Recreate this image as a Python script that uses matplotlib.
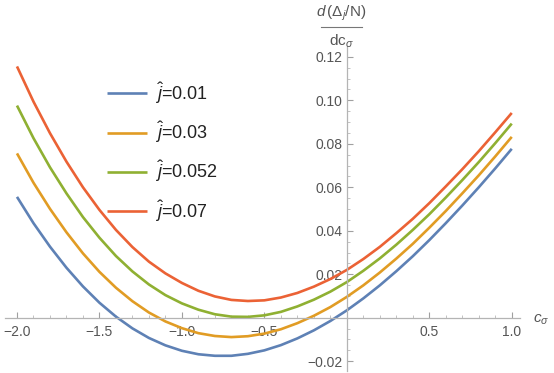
import matplotlib
matplotlib.use("Agg")
import matplotlib.pyplot as plt
from matplotlib.ticker import MultipleLocator, FixedLocator

plt.rcParams['font.family'] = ['Liberation Sans', 'DejaVu Sans']
plt.rcParams['mathtext.fontset'] = 'custom'
plt.rcParams['mathtext.rm'] = 'Liberation Sans'
plt.rcParams['mathtext.it'] = 'Liberation Sans:italic'
plt.rcParams['mathtext.bf'] = 'Liberation Sans:bold'

# ---- data ----
c_sigma = [-2.0, -1.9, -1.8, -1.7, -1.6, -1.5, -1.4, -1.3, -1.2, -1.1,
           -1.0, -0.9, -0.8, -0.7, -0.6, -0.5, -0.4, -0.3, -0.2, -0.1,
           0.0, 0.1, 0.2, 0.3, 0.4, 0.5, 0.6, 0.7, 0.8, 0.9, 1.0]
j_001 = [0.0556, 0.0435, 0.0327, 0.0230, 0.0144, 0.0069, 0.0005, -0.0049,
         -0.0093, -0.0127, -0.0152, -0.0168, -0.0175, -0.0175, -0.0166,
         -0.0150, -0.0126, -0.0095, -0.0058, -0.0015, 0.0034, 0.0089, 0.0149,
         0.0214, 0.0283, 0.0357, 0.0435, 0.0516, 0.0600, 0.0687, 0.0777]
j_003 = [0.0756, 0.0621, 0.0501, 0.0393, 0.0296, 0.0211, 0.0138, 0.0076,
         0.0024, -0.0017, -0.0048, -0.0071, -0.0084, -0.0089, -0.0085,
         -0.0073, -0.0053, -0.0025, 0.0009, 0.0049, 0.0096, 0.0149, 0.0208,
         0.0272, 0.0340, 0.0414, 0.0491, 0.0572, 0.0655, 0.0742, 0.0832]
j_0052 = [0.0976, 0.0826, 0.0692, 0.0572, 0.0463, 0.0368, 0.0284, 0.0213,
          0.0153, 0.0104, 0.0066, 0.0037, 0.0016, 0.0005, 0.0004, 0.0011,
          0.0027, 0.0052, 0.0083, 0.0120, 0.0164, 0.0216, 0.0273, 0.0336,
          0.0404, 0.0476, 0.0553, 0.0633, 0.0716, 0.0803, 0.0893]
j_007 = [0.1156, 0.0994, 0.0849, 0.0718, 0.0600, 0.0496, 0.0404, 0.0325,
         0.0258, 0.0204, 0.0160, 0.0124, 0.0098, 0.0082, 0.0077, 0.0080,
         0.0093, 0.0114, 0.0143, 0.0178, 0.0220, 0.0270, 0.0326, 0.0389,
         0.0455, 0.0527, 0.0604, 0.0683, 0.0766, 0.0853, 0.0942]
labels = [r'$\hat{j}$=0.01', r'$\hat{j}$=0.03', r'$\hat{j}$=0.052', r'$\hat{j}$=0.07']
colors = ['#5E81B5', '#E19C24', '#8FB032', '#EB6235']

x_ticks = [-2.0, -1.5, -1.0, -0.5, 0.5, 1.0]
x_ticklabels = ['\u22122.0', '\u22121.5', '\u22121.0', '\u22120.5', '0.5', '1.0']
y_ticks = [-0.02, 0.02, 0.04, 0.06, 0.08, 0.10, 0.12]
y_ticklabels = ['\u22120.02', '0.02', '0.04', '0.06', '0.08', '0.10', '0.12']

W, H = 554, 373
fig = plt.figure(figsize=(W / 100, H / 100), dpi=100)
# axes placement (pixels): x from 5.45 to 520, y from 46 (top) to 371 (bottom)
ax = fig.add_axes([5.45 / W, (H - 371) / H, (520 - 5.45) / W, (371 - 46) / H])
ax.set_xlim(-2.07, 1.05)
ax.set_ylim(-0.0245, 0.125)

for ys, lab, col in zip([j_001, j_003, j_0052, j_007], labels, colors):
    ax.plot(c_sigma, ys, color=col, lw=1.9, label=lab, solid_joinstyle='round',
            solid_capstyle='butt')

axis_col = '#b4b4b4'
for s in ['top', 'right']:
    ax.spines[s].set_visible(False)
ax.spines['left'].set_position(('data', 0))
ax.spines['bottom'].set_position(('data', 0))
for s in ['left', 'bottom']:
    ax.spines[s].set_color(axis_col)
    ax.spines[s].set_linewidth(0.9)

ax.xaxis.set_major_locator(FixedLocator(x_ticks))
ax.set_xticklabels(x_ticklabels)
ax.yaxis.set_major_locator(FixedLocator(y_ticks))
ax.set_yticklabels(y_ticklabels)
ax.xaxis.set_minor_locator(MultipleLocator(0.1))
ax.yaxis.set_minor_locator(MultipleLocator(0.005))
ax.tick_params(axis='both', which='major', direction='in', length=4, width=0.8,
               color='#a0a0a0', labelcolor='#555555', labelsize=10)
ax.tick_params(axis='both', which='minor', direction='in', length=2.2, width=0.6,
               color='#b8b8b8')
ax.tick_params(axis='x', which='major', pad=5)
ax.tick_params(axis='y', which='major', pad=3)
ax.patch.set_visible(False)

# axis labels
fig.text(541 / W, 1 - 320 / H, r'$c_\sigma$', color='#555555', fontsize=11,
         ha='center', va='center')
fig.text(341 / W, 1 - 13 / H, r'$d\,(\Delta_j/\mathrm{N})$', color='#555555',
         fontsize=11, ha='center', va='center')
fig.add_artist(plt.Line2D([321 / W, 362 / W], [1 - 27 / H, 1 - 27 / H],
                          color='#777777', lw=0.8, transform=fig.transFigure))
fig.text(341 / W, 1 - 41 / H, r'$\mathrm{dc}_\sigma$', color='#555555',
         fontsize=11, ha='center', va='center')

leg = ax.legend(loc='upper left', bbox_to_anchor=(107 / W, 1 - 80 / H),
                bbox_transform=fig.transFigure, frameon=False, fontsize=13,
                handlelength=2.2, handletextpad=0.45, labelspacing=0.75,
                borderpad=0, borderaxespad=0)
for t in leg.get_texts():
    t.set_color('#222222')

fig.savefig('out.png', dpi=100)
